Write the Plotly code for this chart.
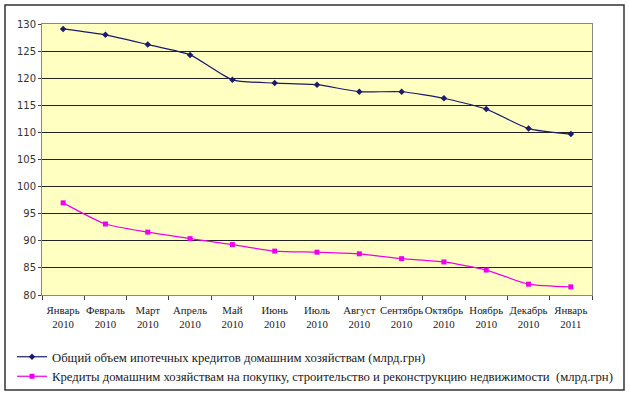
import plotly.graph_objects as go

months = ["Январь", "Февраль", "Март", "Апрель", "Май", "Июнь", "Июль", "Август",
          "Сентябрь", "Октябрь", "Ноябрь", "Декабрь", "Январь"]
years = ["2010"] * 12 + ["2011"]
categories = [f"{m}<br>{y}" for m, y in zip(months, years)]

total_mortgage = [129.1, 128.0, 126.2, 124.3, 119.7, 119.1, 118.8, 117.5, 117.5, 116.3, 114.3, 110.7, 109.7]
housing_credit = [97.0, 93.1, 91.6, 90.4, 89.3, 88.1, 87.9, 87.6, 86.7, 86.1, 84.6, 82.0, 81.5]

name1 = "Общий объем ипотечных кредитов домашним хозяйствам (млрд.грн)"
name2 = "Кредиты домашним хозяйствам на покупку, строительство и реконструкцию недвижимости  (млрд.грн)"

fig = go.Figure()
fig.add_trace(go.Scatter(
    x=categories, y=total_mortgage, name=name1, mode="lines+markers",
    line=dict(color="#1a1a6e", width=1.2, shape="spline", smoothing=0.6),
    marker=dict(symbol="diamond", size=5, color="#1a1a6e"),
))
fig.add_trace(go.Scatter(
    x=categories, y=housing_credit, name=name2, mode="lines+markers",
    line=dict(color="#ee00ee", width=1.2, shape="spline", smoothing=0.6),
    marker=dict(symbol="square", size=5, color="#ee00ee"),
))

W, H = 630, 395
L, T = 42, 24
R = W - 592
B = H - 295
pw, ph = W - L - R, H - T - B

def px(x):
    return (x - L) / pw

def py(y):
    return (H - B - y) / ph

fig.update_layout(
    width=W, height=H,
    margin=dict(l=L, r=R, t=T, b=B, autoexpand=False),
    paper_bgcolor="white",
    plot_bgcolor="#FFFFC2",
    showlegend=True,
    legend=dict(
        x=px(12), y=py(342), xanchor="left", yanchor="top",
        font=dict(family="Liberation Serif", size=12.7, color="#1a1a1a"),
        bgcolor="rgba(0,0,0,0)", tracegroupgap=0, itemwidth=30,
    ),
    xaxis=dict(
        type="category", range=[-0.5, 12.5],
        tickson="boundaries", ticks="outside", ticklen=4, tickcolor="#444",
        showgrid=False, showline=True, linecolor="#888", linewidth=1, mirror=True,
        tickangle=0, automargin=False, ticklabelstandoff=5,
        tickfont=dict(family="Liberation Serif", size=10.8, color="#1a1a1a"),
        fixedrange=True,
    ),
    yaxis=dict(
        range=[80, 130], dtick=5, tick0=80,
        showgrid=True, gridcolor="#222", gridwidth=1,
        showline=True, linecolor="#888", linewidth=1, mirror=True,
        ticks="outside", ticklen=3, tickcolor="#444", automargin=False,
        tickfont=dict(family="DejaVu Sans", size=10, color="#333"),
        zeroline=False, fixedrange=True,
    ),
    shapes=[dict(
        type="rect", xref="paper", yref="paper",
        x0=px(5), x1=px(624), y0=py(390), y1=py(5),
        line=dict(color="#333", width=1.5), fillcolor="rgba(0,0,0,0)", layer="above",
    )],
)

fig.write_html("out.html", config={"displayModeBar": False},
               post_script="document.body.style.margin='0';")
